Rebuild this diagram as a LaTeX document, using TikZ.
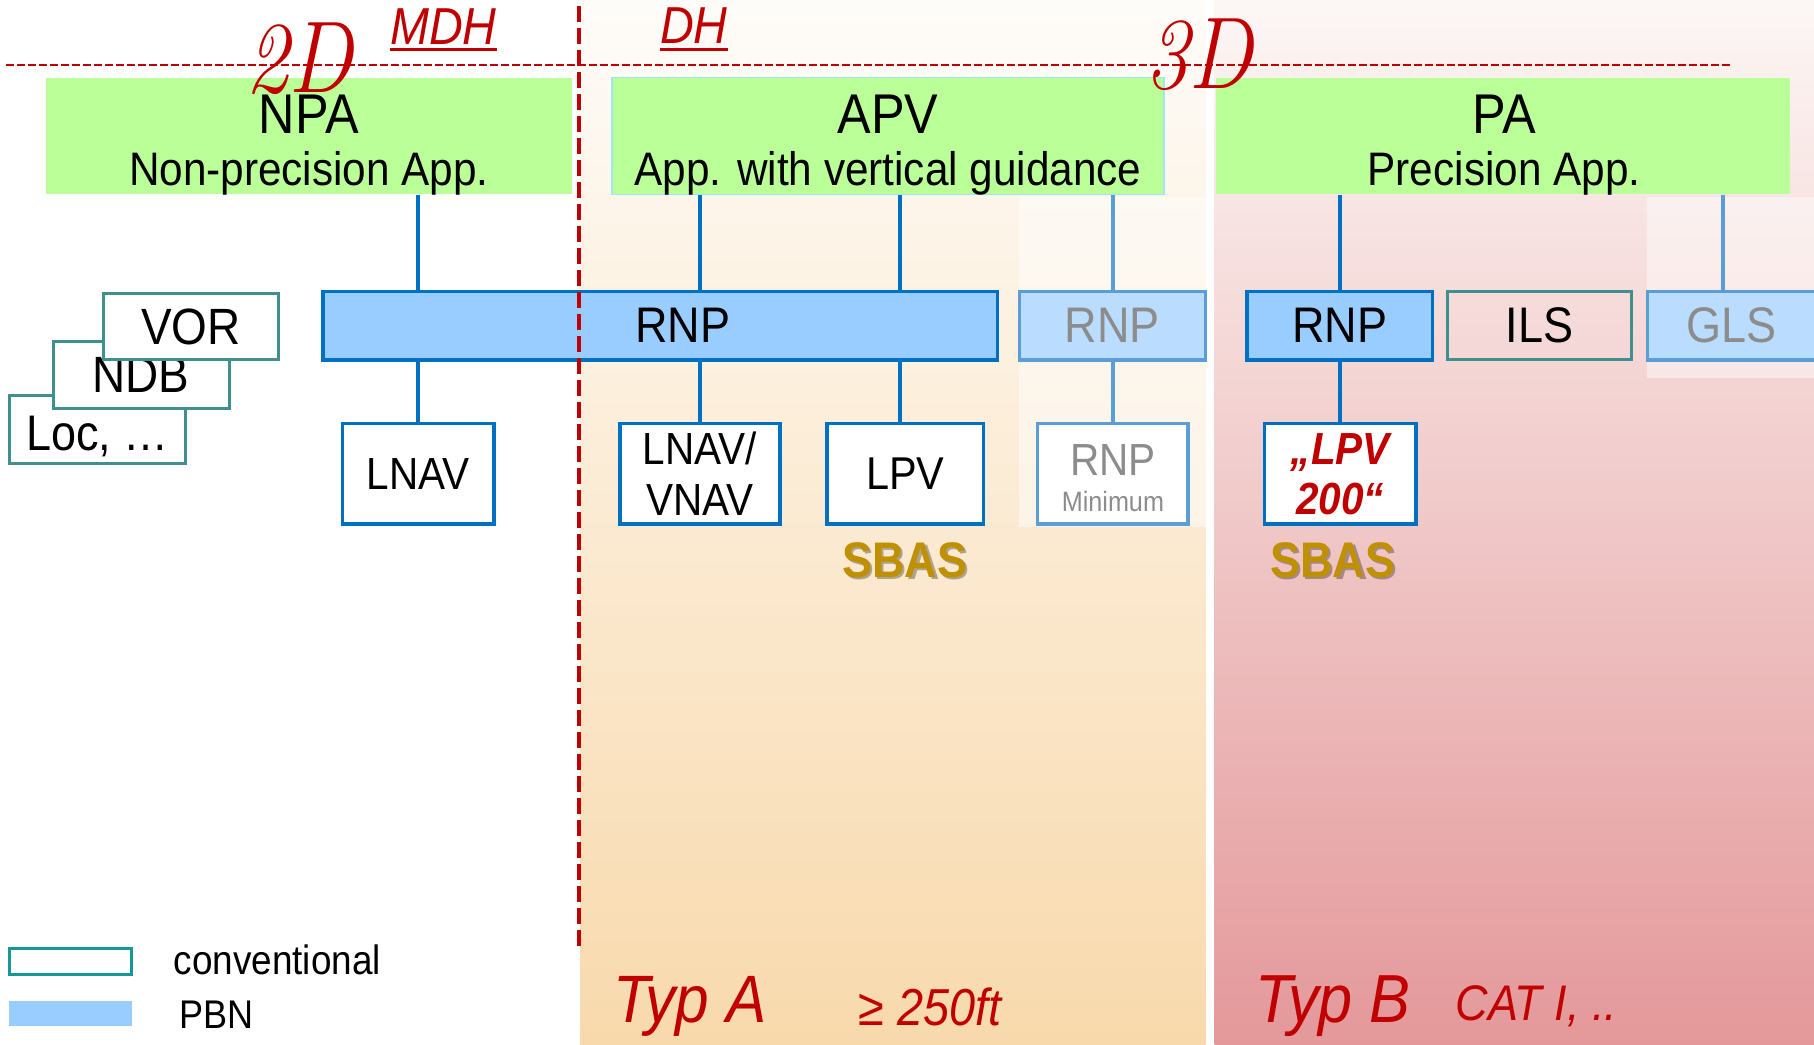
\documentclass[tikz,border=0pt]{standalone}
\usepackage{fontspec}
\setsansfont{Liberation Sans}[FakeStretch=0.9]
\renewcommand{\familydefault}{\sfdefault}
\definecolor{greenf}{RGB}{187,255,153}
\definecolor{bluef}{RGB}{153,204,255}
\definecolor{blueb}{RGB}{0,112,192}
\definecolor{bluelf}{RGB}{186,220,255}
\definecolor{bluel}{RGB}{91,157,213}
\definecolor{greyt}{RGB}{140,140,140}
\definecolor{tealb}{RGB}{64,143,143}
\definecolor{tealleg}{RGB}{20,152,152}
\definecolor{redc}{RGB}{192,0,0}
\definecolor{goldc}{RGB}{191,144,0}
\definecolor{apvb}{RGB}{160,230,240}
\definecolor{peachT}{RGB}{254,252,249}
\definecolor{peachM}{RGB}{251,237,216}
\definecolor{peachB}{RGB}{248,217,172}
\definecolor{pinkT}{RGB}{252,247,245}
\definecolor{pinkM}{RGB}{246,222,220}
\definecolor{pinkB}{RGB}{228,152,154}
\newcommand\fsz[1]{\fontsize{#1}{#1}\selectfont}
\begin{document}
\begin{tikzpicture}[x=1pt,y=-1pt,
  catbox/.style={fill=greenf, inner sep=0, minimum height=116.9},
  pbnbox/.style={draw=blueb, fill=bluef, line width=3.5pt, inner sep=0, minimum height=68.3},
  pbnlite/.style={draw=bluel, fill=bluelf, line width=3.5pt, inner sep=0, minimum height=68.3, text=greyt},
  convbox/.style={draw=tealb, fill=white, line width=3pt, inner sep=0},
  leafbox/.style={draw=blueb, fill=white, line width=3.5pt, inner sep=0, minimum height=100.7, align=center},
  leaflite/.style={draw=bluel, fill=white, line width=3.5pt, inner sep=0, minimum height=100.7, align=center, text=greyt},
  conn/.style={draw=blueb, line width=4pt},
  connlite/.style={draw=bluel, line width=4pt},
  txt/.style={inner sep=0},
  redtxt/.style={inner sep=0, text=redc}
]
\useasboundingbox (0,0) rectangle (1814,1044);
\clip (0,0) rectangle (1814,1044);
% backgrounds
\fill[white] (0,0) rectangle (1814,1044);
\shade[top color=peachT, middle color=peachM, bottom color=peachB] (580,0) rectangle (1205.5,1044);
\shade[top color=pinkT, middle color=pinkM, bottom color=pinkB] (1214.7,0) rectangle (1814,1044);
\fill[white, opacity=0.45] (1019,197) rectangle (1205.5,527);
\fill[white, opacity=0.45] (1647,197) rectangle (1814,378);
% horizontal dashed line
\draw[redc, line width=2pt, dash pattern=on 8pt off 3pt] (6,65) -- (1732,65);

% category boxes
\node[catbox, minimum width=525.2] (npa) at (308.9,136) {};
\node[txt, anchor=base, font=\fsz{56}] (npaT) at (308.9,133) {NPA};
\node[txt, anchor=base, font=\fsz{47}] (npaS) at (308.9,185) {Non-precision App.};
\node[catbox, draw=apvb, line width=1.2pt, minimum width=551.9] (apv) at (888,136) {};
\node[txt, anchor=base, font=\fsz{56}] (apvT) at (888,133) {APV};
\node[txt, anchor=base, font=\fsz{47}] (apvS) at (888,185) {App. with vertical guidance};
\node[catbox, minimum width=573.7] (pa) at (1502.9,136) {};
\node[txt, anchor=base, font=\fsz{56}] (paT) at (1504,133) {PA};
\node[txt, anchor=base, font=\fsz{47}] (paS) at (1504,185) {Precision App.};

% conventional stack
\node[convbox, minimum width=175.8, minimum height=68.2] (loc) at (97.2,429.8) {};
\node[txt, anchor=base, font=\fsz{50}] (locT) at (97.7,450.5) {Loc, …};
\node[convbox, minimum width=175.8, minimum height=67.1, font=\fsz{51}] (ndb) at (141.1,374.9) {NDB};
\node[convbox, minimum width=175.8, minimum height=65.9, font=\fsz{51}] (vor) at (190.9,326.9) {VOR};

% row 2
\node[pbnbox, minimum width=674.5] (rnpA) at (660,325.7) {};
\node[txt, font=\fsz{50}] (rnpAT) at (682.6,325.7) {RNP};
\node[pbnlite, minimum width=186.3, font=\fsz{50}] (rnpB) at (1112.4,325.7) {RNP};
\node[pbnbox, minimum width=185.1, font=\fsz{50}] (rnpC) at (1339.7,325.7) {RNP};
\node[convbox, fill=none, minimum width=183.9, minimum height=68.3, font=\fsz{50}] (ils) at (1539.3,325.7) {ILS};
\node[pbnlite, minimum width=190] (gls) at (1742.4,325.7) {};
\node[txt, text=greyt, font=\fsz{50}] (glsT) at (1731,325.7) {GLS};

% row 3
\node[leafbox, minimum width=151.6, font=\fsz{45}] (lnav) at (418.2,473.8) {LNAV};
\node[leafbox, minimum width=159.7, font=\fontsize{45}{51}\selectfont] (lnv) at (700,473.8) {LNAV/\\VNAV};
\node[leafbox, minimum width=156.2, font=\fsz{46}] (lpv) at (905.3,473.8) {LPV};
\node[leaflite, minimum width=150.4] (rmin) at (1112.9,473.8) {};
\node[txt, anchor=base, text=greyt, font=\fsz{45}] (rminT) at (1112.9,475.5) {RNP};
\node[txt, anchor=base, text=greyt, font=\fsz{28}] (rminS) at (1112.9,511) {Minimum};
\node[leafbox, minimum width=151.5, text=redc, font=\bfseries\itshape\fontsize{45}{50}\selectfont] (lpv2) at (1340.3,473.8) {„LPV\\200“};

% connectors
\coordinate (xlpv) at (900,0);
\coordinate (xgls) at (1722.6,0);
\draw[conn] (lnav.north |- npa.south) -- (lnav.north |- rnpA.north);
\draw[conn] (lnav.north |- rnpA.south) -- (lnav.north);
\draw[conn] (lnv.north |- apv.south) -- (lnv.north |- rnpA.north);
\draw[conn] (lnv.north |- rnpA.south) -- (lnv.north);
\draw[conn] (xlpv |- apv.south) -- (xlpv |- rnpA.north);
\draw[conn] (xlpv |- rnpA.south) -- (xlpv |- lpv.north);
\draw[connlite] (rmin.north |- apv.south) -- (rmin.north |- rnpB.north);
\draw[connlite] (rmin.north |- rnpB.south) -- (rmin.north);
\draw[conn] (lpv2.north |- pa.south) -- (lpv2.north |- rnpC.north);
\draw[conn] (lpv2.north |- rnpC.south) -- (lpv2.north);
\draw[connlite] (xgls |- pa.south) -- (xgls |- gls.north);

% vertical dashed line
\draw[redc, line width=4pt, dash pattern=on 16pt off 6pt] (578.5,6) -- (578.5,949);

% 2D / 3D and MDH / DH
\node[redtxt, anchor=base, font=\rmfamily\itshape\fsz{102}] (twoD) at (299,92) {\scalebox{0.85}[1]{2D}};
\node[redtxt, anchor=base, font=\rmfamily\itshape\fsz{102}] (threeD) at (1199,88) {\scalebox{0.85}[1]{3D}};
\node[redtxt, anchor=base west, font=\itshape\fsz{52}] (mdh) at (390,44) {MDH};
\draw[redc, line width=3pt] ([yshift=-5.5pt]mdh.base west) -- ([yshift=-5.5pt]mdh.base east);
\node[redtxt, anchor=base west, font=\itshape\fsz{52}] (dh) at (660,43) {DH};
\draw[redc, line width=3pt] ([yshift=-6.5pt]dh.base west) -- ([yshift=-6.5pt]dh.base east);

% SBAS
\node[txt, anchor=base, text=black, opacity=0.3, font=\bfseries\fsz{50}] (sbas1s) at (907,579.5) {SBAS};
\node[txt, anchor=base, text=goldc, font=\bfseries\fsz{50}] (sbas1) at (904.7,577.3) {SBAS};
\node[txt, anchor=base, text=black, opacity=0.3, font=\bfseries\fsz{50}] (sbas2s) at (1335,579.5) {SBAS};
\node[txt, anchor=base, text=goldc, font=\bfseries\fsz{50}] (sbas2) at (1332.7,577.3) {SBAS};

% bottom labels
\node[redtxt, anchor=base west, font=\itshape\fsz{67}] (typA) at (613.2,1022.7) {Typ A};
\node[redtxt, anchor=base west, font=\itshape\fsz{52}] (ft) at (858.4,1025) {≥ 250ft};
\node[redtxt, anchor=base west, font=\itshape\fsz{68}] (typB) at (1255.2,1022.7) {Typ B};
\node[redtxt, anchor=base west, font=\itshape\fsz{50}] (cat) at (1455.4,1020.4) {CAT I, ..};

% legend
\node[draw=tealleg, line width=3pt, fill=white, minimum width=122.6, minimum height=25.4, inner sep=0] (legC) at (70.6,961.4) {};
\node[fill=bluef, minimum width=122.6, minimum height=25.5, inner sep=0] (legP) at (70.6,1013.5) {};
\node[txt, anchor=base west, font=\fsz{41}] (legCT) at (173.5,974) {conventional};
\node[txt, anchor=base west, font=\fsz{40}] (legPT) at (179.3,1028.5) {PBN};
\end{tikzpicture}
\end{document}
